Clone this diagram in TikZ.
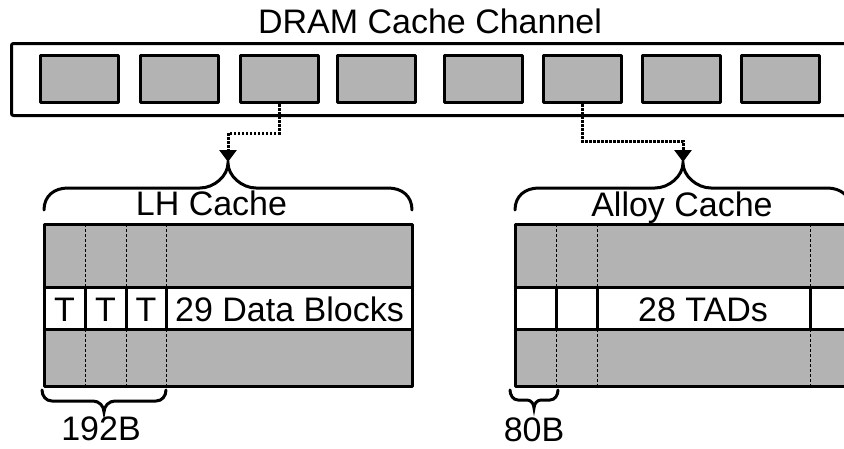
\documentclass[tikz,border=0pt]{standalone}
\usepackage{fontspec}
\setmainfont{Liberation Sans}
\usetikzlibrary{arrows.meta}
\definecolor{cellgray}{RGB}{179,179,179}
\begin{document}
\begin{tikzpicture}[x=1pt,y=-1pt,
  lbl/.style={font=\fontsize{34}{40}\selectfont, anchor=base, inner sep=0pt},
  titlelbl/.style={font=\fontsize{34}{40}\selectfont, anchor=base, inner sep=0pt},
  frame/.style={line width=3pt, line join=round},
  membox/.style={draw, fill=cellgray, line width=3pt, minimum width=78pt, minimum height=47pt, inner sep=0pt, line join=round},
  sepline/.style={line width=1pt, dash pattern=on 3pt off 2pt},
  solidsep/.style={line width=3pt},
  bracestyle/.style={line width=3pt, line cap=round},
  conn/.style={line width=3pt, dash pattern=on 2.5pt off 1.5pt, -{Triangle[width=17pt,length=12pt]}},
]
\useasboundingbox (0,0) rectangle (844,448);
\clip (0,0) rectangle (844,448);

% title
\node[titlelbl] (title) at (430,33) {DRAM Cache Channel};

% channel outer box
\draw[frame, rounded corners=2pt] (11.5,43.5) rectangle (852,115.5);

% memory blocks
\node[membox] (b1) at (79.5,79) {};
\node[membox] (b2) at (179,79) {};
\node[membox] (b3) at (279,79) {};
\node[membox] (b4) at (376,79) {};
\node[membox] (b5) at (483,79) {};
\node[membox] (b6) at (582,79) {};
\node[membox] (b7) at (681,79) {};
\node[membox] (b8) at (780,79) {};

% brace tips
\coordinate (lhtip) at (228,162);
\coordinate (altip) at (683,162);
\coordinate (lhturn) at (228,133);
\coordinate (alturn) at (683,141);

% connectors
\draw[conn] (b3.south) |- (lhturn) -- (lhtip);
\draw[conn] (b6.south) |- (alturn) -- (altip);

% LH brace
\draw[bracestyle] (44,210) .. controls (44,196) and (54,188) .. (68,188)
  -- (200,188) .. controls (214,188) and (228,176) .. (228,163)
  .. controls (228,176) and (242,188) .. (256,188)
  -- (388,188) .. controls (402,188) and (412,196) .. (412,210);
\node[lbl] (lhlabel) at (211.5,215) {LH Cache};

% Alloy brace
\draw[bracestyle] (515,210) .. controls (515,196) and (525,188) .. (539,188)
  -- (655,188) .. controls (669,188) and (683,176) .. (683,163)
  .. controls (683,176) and (697,188) .. (711,188)
  -- (827,188) .. controls (841,188) and (851,196) .. (851,210);
\node[lbl] (allabel) at (682,216) {Alloy Cache};

% LH table
\fill[cellgray] (44,224) rectangle (412,386);
\fill[white] (44,287) rectangle (412,329);
\foreach \x in {85,126,166}{
  \draw[sepline] (\x,224) -- (\x,287);
  \draw[sepline] (\x,329) -- (\x,386);
  \draw[solidsep] (\x,287) -- (\x,329);
}
\draw[solidsep] (44,287) -- (412,287);
\draw[solidsep] (44,329) -- (412,329);
\draw[frame] (44,224) rectangle (412,386);
\node[lbl] (t1) at (64.5,321) {T};
\node[lbl] (t2) at (105.5,321) {T};
\node[lbl] (t3) at (146,321) {T};
\node[lbl] (data) at (289.5,321) {29 Data Blocks};

% Alloy table
\fill[cellgray] (515,224) rectangle (852,386);
\fill[white] (515,287) rectangle (852,329);
\foreach \x in {556,597,810}{
  \draw[sepline] (\x,224) -- (\x,287);
  \draw[sepline] (\x,329) -- (\x,386);
  \draw[solidsep] (\x,287) -- (\x,329);
}
\draw[solidsep] (515,287) -- (852,287);
\draw[solidsep] (515,329) -- (852,329);
\draw[frame] (515,224) rectangle (852,386);
\node[lbl] (tads) at (703,321) {28 TADs};

% 192B brace
\draw[bracestyle] (42,390) .. controls (42,396) and (46,401) .. (52,401)
  -- (93,401) .. controls (99,401) and (104,406) .. (104,412)
  .. controls (104,406) and (109,401) .. (115,401)
  -- (156,401) .. controls (162,401) and (166,396) .. (166,390);
\node[lbl] (sz192) at (101,440) {192B};

% 80B brace
\draw[bracestyle] (510,390) .. controls (510,395) and (513,400) .. (518,400)
  -- (527,400) .. controls (531,400) and (534,404) .. (534,408)
  .. controls (534,404) and (537,400) .. (541,400)
  -- (550,400) .. controls (555,400) and (558,395) .. (558,390);
\node[lbl] (sz80) at (534,441) {80B};
\end{tikzpicture}
\end{document}
